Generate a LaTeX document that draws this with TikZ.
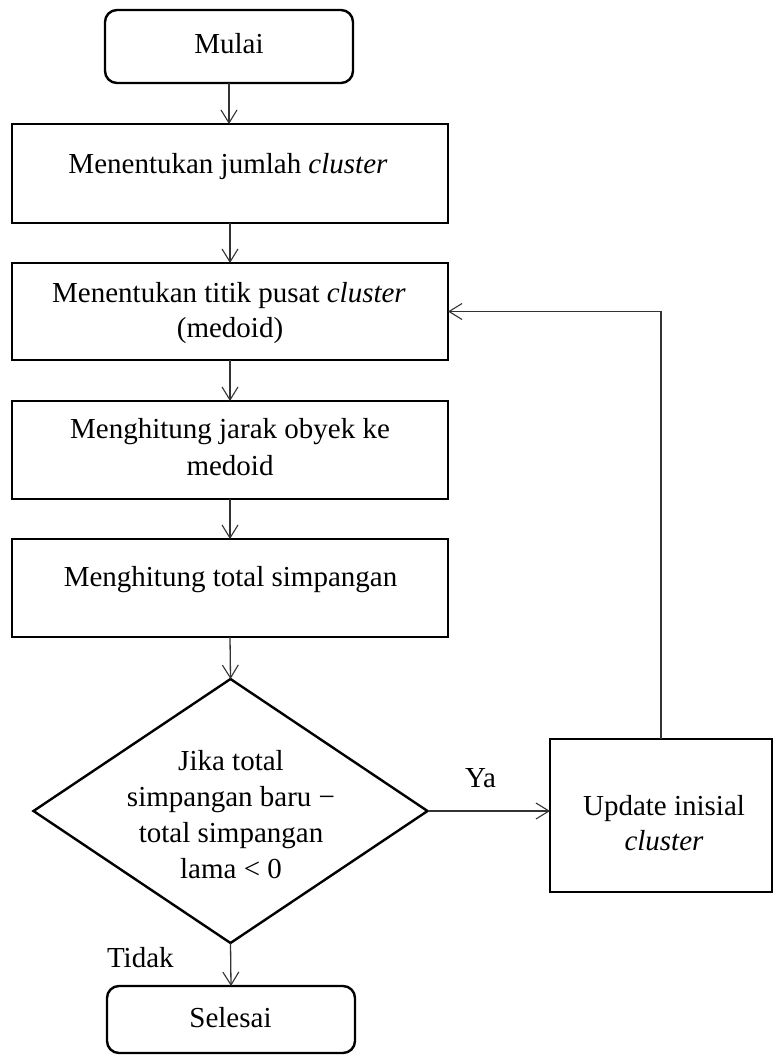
\documentclass[tikz,border=0pt]{standalone}
\usepackage{fontspec}
\setmainfont{Liberation Serif}
\usetikzlibrary{arrows.meta,shapes.geometric}
\begin{document}
\begin{tikzpicture}[x=1pt,y=-1pt,
  every node/.style={inner sep=0pt,outer sep=0pt},
  box/.style={draw,line width=2.4pt,rectangle},
  term/.style={box,rounded corners=12pt},
  decision/.style={draw,line width=2.4pt,diamond},
  txt/.style={anchor=base,font=\fontsize{29}{35}\selectfont},
  lbl/.style={anchor=base west,font=\fontsize{29}{35}\selectfont},
  flow/.style={draw=black!80,line width=1.3pt,-{Straight Barb[length=13pt,width=16pt,line width=1.1pt]}}]
\useasboundingbox (0,0) rectangle (774,1055);

% process boxes
\node[term,minimum width=248pt,minimum height=73pt] (mulai) at (229,46.5) {};
\node[box,minimum width=436pt,minimum height=99pt] (b2) at (230,173.5) {};
\node[box,minimum width=436pt,minimum height=97pt] (b3) at (230,311.5) {};
\node[box,minimum width=436pt,minimum height=98pt] (b4) at (230,450) {};
\node[box,minimum width=436pt,minimum height=98pt] (b5) at (230,588) {};
\node[decision,minimum width=394pt,minimum height=264pt] (dec) at (230.5,811) {};
\node[box,minimum width=222pt,minimum height=153pt] (upd) at (661,815.5) {};
\node[term,minimum width=248pt,minimum height=67pt] (sel) at (231,1019.5) {};

% texts
\node[txt] (tmulai) at (229,53) {Mulai};
\node[txt] (t2) at (228,173) {Menentukan jumlah \textit{cluster}};
\node[txt] (t3a) at (229,302) {Menentukan titik pusat \textit{cluster}};
\node[txt] (t3b) at (230,337) {(medoid)};
\node[txt] (t4a) at (230,438) {Menghitung jarak obyek ke};
\node[txt] (t4b) at (230,475) {medoid};
\node[txt] (t5) at (230.5,586) {Menghitung total simpangan};
\node[txt] (d1) at (231,770) {Jika total};
\node[txt] (d2) at (231,806) {simpangan baru −};
\node[txt] (d3) at (231,842) {total simpangan};
\node[txt] (d4) at (231,878) {lama < 0};
\node[txt] (u1) at (664,815) {Update inisial};
\node[txt] (u2) at (664,850) {\textit{cluster}};
\node[txt] (tsel) at (230.5,1027) {Selesai};
\node[lbl] (ya) at (465,787) {Ya};
\node[lbl] (tidak) at (107,967) {Tidak};

% connectors
\draw[flow] (mulai.south) -- (mulai.south |- b2.north);
\draw[flow] (b2.south) -- (b3.north);
\draw[flow] (b3.south) -- (b4.north);
\draw[flow] (b4.south) -- (b5.north);
\draw[flow] (b5.south) -- (dec.north);
\draw[flow] (dec.east) -- (upd.west |- dec.east);
\draw[flow] (upd.north) |- (b3.east);
\draw[flow] (dec.south) -- (sel.north);
\end{tikzpicture}
\end{document}
